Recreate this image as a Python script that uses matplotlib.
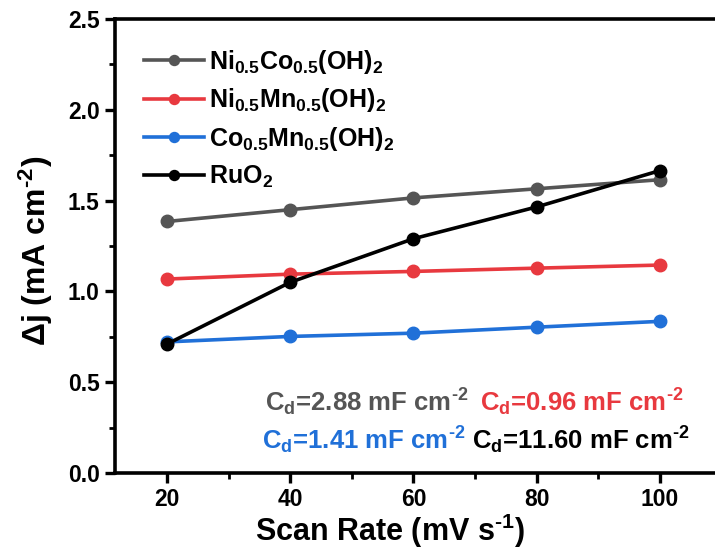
import matplotlib
matplotlib.use("Agg")
import matplotlib.pyplot as plt
from matplotlib.ticker import MultipleLocator

plt.rcParams['font.family'] = ['Liberation Sans', 'DejaVu Sans']
plt.rcParams['font.weight'] = 'bold'
plt.rcParams['axes.labelweight'] = 'bold'
plt.rcParams['mathtext.fontset'] = 'custom'
plt.rcParams['mathtext.rm'] = 'Liberation Sans:bold'
plt.rcParams['mathtext.bf'] = 'Liberation Sans:bold'
plt.rcParams['mathtext.default'] = 'rm'

# data
scan_rate = [20, 40, 60, 80, 100]
nico = [1.385, 1.450, 1.515, 1.565, 1.615]
nimn = [1.068, 1.095, 1.110, 1.128, 1.145]
comn = [0.722, 0.752, 0.770, 0.803, 0.835]
ruo2 = [0.710, 1.050, 1.290, 1.465, 1.665]

labels = [r'Ni$_{0.5}$Co$_{0.5}$(OH)$_2$', r'Ni$_{0.5}$Mn$_{0.5}$(OH)$_2$',
          r'Co$_{0.5}$Mn$_{0.5}$(OH)$_2$', r'RuO$_2$']
colors = ['#555555', '#e8393f', '#2070d8', '#000000']
cdl_text = [r'C$_d$=2.88 mF cm$^{\text{-}2}$', r'C$_d$=0.96 mF cm$^{\text{-}2}$',
            r'C$_d$=1.41 mF cm$^{\text{-}2}$', r'C$_d$=11.60 mF cm$^{\text{-}2}$']

fig = plt.figure(figsize=(7.15, 5.6), dpi=100)
ax = fig.add_axes([115/715, 87/560, 615/715, 454/560])

for y, lab, c in zip([nico, nimn, comn, ruo2], labels, colors):
    ax.plot(scan_rate, y, '-o', color=c, lw=2.6, ms=9, label=lab, clip_on=False)

ax.set_xlim(11.56, 111.4)
ax.set_ylim(0, 2.5)
ax.xaxis.set_major_locator(MultipleLocator(20))
ax.xaxis.set_minor_locator(MultipleLocator(10))
ax.yaxis.set_major_locator(MultipleLocator(0.5))
ax.yaxis.set_minor_locator(MultipleLocator(0.25))
ax.yaxis.set_major_formatter(plt.FormatStrFormatter('%.1f'))
ax.tick_params(which='major', direction='out', length=7, width=2.4, labelsize=16.5, pad=4)
ax.tick_params(which='minor', direction='out', length=4, width=2.0)
for s in ax.spines.values():
    s.set_linewidth(2.6)

ax.set_xlabel(r'Scan Rate (mV s$^{\text{-}1}$)', fontsize=22)
ax.xaxis.set_label_coords(0.447, -0.085)
ax.set_ylabel('Δj (mA cm$^{\\text{-}2}$)', fontsize=23)
ax.yaxis.set_label_coords(-0.098, 0.49)

leg = ax.legend(loc='upper left', bbox_to_anchor=(0.019, 0.975), frameon=False,
                fontsize=18, handlelength=2.4, handletextpad=0.2, labelspacing=0.42,
                borderaxespad=0.3, markerscale=0.8)

fig.text(265/715, 1 - 411/560, cdl_text[0], color=colors[0], fontsize=18.5, va='baseline')
fig.text(480/715, 1 - 411/560, cdl_text[1], color=colors[1], fontsize=18.5, va='baseline')
fig.text(262/715, 1 - 449/560, cdl_text[2], color=colors[2], fontsize=18.5, va='baseline')
fig.text(472/715, 1 - 449/560, cdl_text[3], color=colors[3], fontsize=18.5, va='baseline')

fig.savefig('out.png', dpi=100)
